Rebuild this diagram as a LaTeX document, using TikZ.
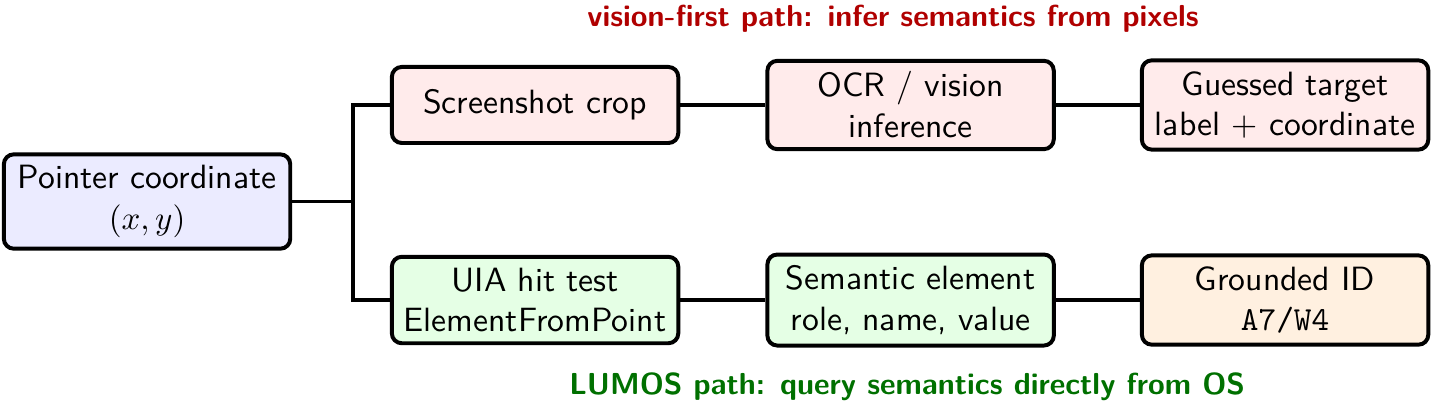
\documentclass[tikz,border=0pt]{standalone}
\renewcommand{\familydefault}{\sfdefault}
\definecolor{visred}{RGB}{176,0,0}
\definecolor{lumgreen}{RGB}{0,112,0}
\tikzset{
  stage/.style={draw=black, line width=1.2pt, rounded corners=3pt, align=center,
    minimum width=3.05cm, minimum height=0.81cm, inner sep=3.3pt,
    font=\fontsize{10.2}{12.4}\selectfont},
  pointbox/.style={stage, fill=blue!8},
  visionbox/.style={stage, fill=red!8},
  lumosbox/.style={stage, fill=green!10},
  idbox/.style={stage, fill=orange!12},
  pathlabel/.style={font=\fontsize{9.2}{11}\selectfont\bfseries},
  wire/.style={line width=1pt}
}
\begin{document}
\begin{tikzpicture}
  \useasboundingbox (0,0) rectangle (15.26,4.313);
  % input
  \node[pointbox] (pointer) at (1.566,2.167) {Pointer coordinate\\$(x,y)$};
  % vision-first row
  \node[visionbox] (shot) at (5.698,3.195) {Screenshot crop};
  \node[visionbox] (ocr) at (9.697,3.195) {OCR / vision\\inference};
  \node[visionbox] (guess) at (13.685,3.195) {Guessed target\\label + coordinate};
  % LUMOS row
  \node[lumosbox] (uia) at (5.698,1.118) {UIA hit test\\ElementFromPoint};
  \node[lumosbox] (sem) at (9.697,1.118) {Semantic element\\role, name, value};
  \node[idbox] (ground) at (13.685,1.118) {Grounded ID\\\texttt{A7/W4}};
  % path labels
  \node[pathlabel, text=visred] (vislabel) at (9.51,4.115)
    {vision-first path: infer semantics from pixels};
  \node[pathlabel, text=lumgreen] (lumlabel) at (9.66,0.19)
    {LUMOS path: query semantics directly from OS};
  % branch
  \coordinate (trunk) at (3.759,2.167);
  \draw[wire] (pointer.east) -- (trunk);
  \draw[wire] (shot.west) -| (trunk) |- (uia.west);
  % row links
  \draw[wire] (shot.east) -- (ocr.west);
  \draw[wire] (ocr.east) -- (guess.west);
  \draw[wire] (uia.east) -- (sem.west);
  \draw[wire] (sem.east) -- (ground.west);
\end{tikzpicture}
\end{document}
